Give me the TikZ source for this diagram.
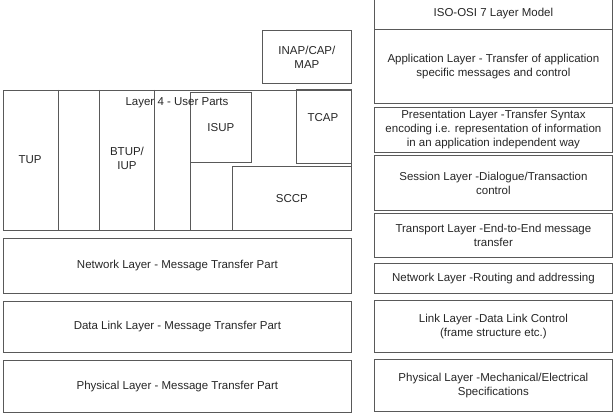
\documentclass[tikz,border=0pt]{standalone}
\usepackage{fontspec}
\setmainfont{Liberation Sans}
\usetikzlibrary{positioning}

\begin{document}
\begin{tikzpicture}[x=1pt, y=-1pt, font=\fontsize{11.5}{14}\selectfont,
  box/.style={draw=black!65, line width=0.8pt, rectangle, inner sep=0pt, align=center, text=black!85, anchor=north west},
  lbl/.style={text=black!85, inner sep=0pt, align=center}]
\useasboundingbox (0,0) rectangle (616,420);
% SS7 stack
\node[box, minimum width=89pt, minimum height=53pt] (inap) at (262,30) {INAP/CAP/\\MAP};
\node[box, minimum width=348pt, minimum height=140pt] (user) at (3,90) {};
\draw[draw=black!65, line width=0.8pt] (58,90) -- (58,230); \draw[draw=black!65, line width=0.8pt] (99,90) -- (99,230); \draw[draw=black!65, line width=0.8pt] (154,90) -- (154,230); \draw[draw=black!65, line width=0.8pt] (190,162) -- (190,230);
\node[box, minimum width=61pt, minimum height=70pt] (isup) at (190,92) {ISUP};
\node[box, minimum width=55pt, minimum height=74pt] (tcap) at (296,89) {};
\node[box, minimum width=119pt, minimum height=64pt] (sccp) at (232,166) {SCCP};
\node[lbl] (l4) at (177,103) {Layer 4 - User Parts};
\node[lbl] (tup) at (30,160) {TUP};
\node[lbl] (btup) at (127,158) {BTUP/\\IUP};
\node[lbl] (tcaptxt) at (323,118) {TCAP};
\node[box, minimum width=348pt, minimum height=55pt] (mnet) at (3,238) {Network Layer - Message Transfer Part};
\node[box, minimum width=348pt, minimum height=51pt] (mlink) at (3,301) {Data Link Layer - Message Transfer Part};
\node[box, minimum width=348pt, minimum height=52pt] (mphys) at (3,360) {Physical Layer - Message Transfer Part};
% OSI stack
\node[box, minimum width=238pt, minimum height=32pt] (osi) at (374,-3) {ISO-OSI 7 Layer Model};
\node[box, minimum width=238pt, minimum height=74pt] (app) at (374,29) {Application Layer - Transfer of application\\specific messages and control};
\node[box, minimum width=238pt, minimum height=45pt] (pres) at (374,107) {Presentation Layer -Transfer Syntax\\encoding i.e. representation of information\\in an application independent way};
\node[box, minimum width=238pt, minimum height=55pt] (sess) at (374,155) {Session Layer -Dialogue/Transaction\\control};
\node[box, minimum width=238pt, minimum height=44pt] (trans) at (374,213) {Transport Layer -End-to-End message\\transfer};
\node[box, minimum width=238pt, minimum height=30pt] (net) at (374,263) {Network Layer -Routing and addressing};
\node[box, minimum width=238pt, minimum height=52pt] (link) at (374,300) {Link Layer -Data Link Control\\(frame structure etc.)};
\node[box, minimum width=238pt, minimum height=52pt] (phys) at (374,359) {Physical Layer -Mechanical/Electrical\\Specifications};
\end{tikzpicture}
\end{document}
